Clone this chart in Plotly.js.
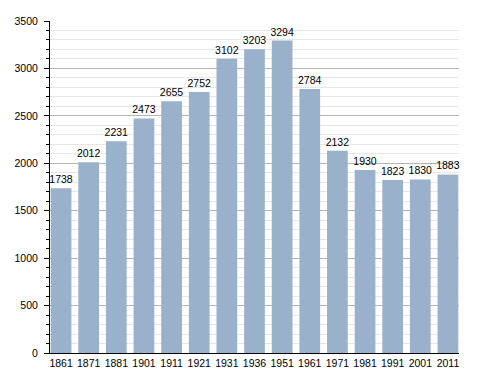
<!DOCTYPE html>
<html>
<head>
<meta charset="utf-8">
<script src="https://cdn.plot.ly/plotly-3.0.1.min.js"></script>
<style>html,body{margin:0;padding:0;background:#fff;}#chart{width:488px;height:373px;}</style>
</head>
<body>
<div id="chart"></div>
<script>
const years = ["1861","1871","1881","1901","1911","1921","1931","1936","1951","1961","1971","1981","1991","2001","2011"];
const population = [1738,2012,2231,2473,2655,2752,3102,3203,3294,2784,2132,1930,1823,1830,1883];
const barColor = "#9ab1cc";

Plotly.newPlot("chart", [{
  type: "bar",
  x: years,
  y: population,
  text: population.map(String),
  textposition: "outside",
  constraintext: "none",
  textfont: {family: "Liberation Sans, Arial, sans-serif", size: 10.5, color: "#000"},
  marker: {color: barColor},
  cliponaxis: false,
  hoverinfo: "none"
}], {
  width: 488, height: 373,
  margin: {l: 50, r: 29, t: 21, b: 20},
  paper_bgcolor: "#fff", plot_bgcolor: "#fff",
  bargap: 0.25,
  showlegend: false,
  font: {family: "Liberation Sans, Arial, sans-serif", size: 10, color: "#000"},
  xaxis: {
    type: "category",
    range: [-0.4, 14.4],
    showline: true, linecolor: "#000", linewidth: 1,
    ticks: "", showgrid: false, zeroline: false,
    tickfont: {size: 10.5, color: "#000"}
  },
  yaxis: {
    range: [0, 3500],
    dtick: 500, tick0: 0,
    showline: true, linecolor: "#000", linewidth: 1,
    ticks: "outside", ticklen: 5, tickcolor: "#000",
    ticklabelstandoff: 4,
    showgrid: true, gridcolor: "#b4b4b4", gridwidth: 1,
    zeroline: false,
    tickfont: {size: 10.5, color: "#000"},
    minor: {dtick: 100, tick0: 0, ticks: "outside", ticklen: 3, tickcolor: "#000", showgrid: true, gridcolor: "#e6e6e6", gridwidth: 1}
  }
}, {staticPlot: true});
</script>
</body>
</html>
